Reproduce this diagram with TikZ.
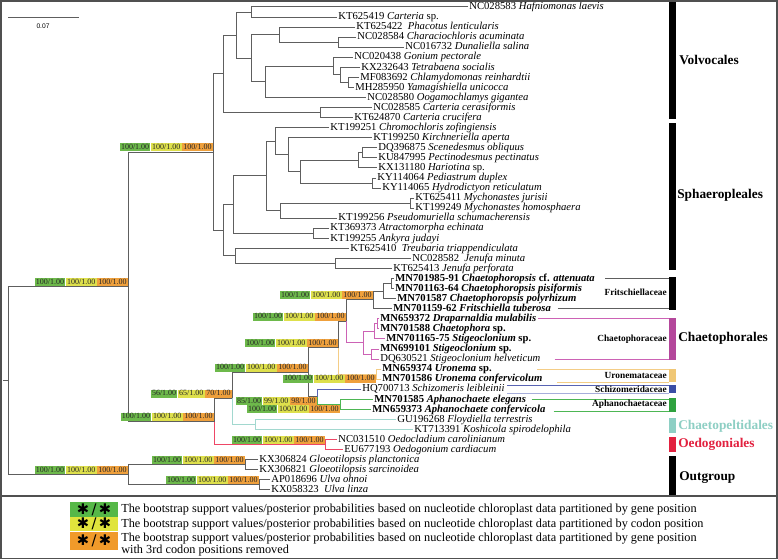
\documentclass[tikz,border=0pt]{standalone}
\usepackage{fontspec}
\setmainfont{Liberation Serif}
\setsansfont{Liberation Sans}
\newfontfamily\symfont{DejaVu Sans}
\usetikzlibrary{calc}
\definecolor{ln}{HTML}{5E5E5E}
\definecolor{sg}{HTML}{6DB94B}
\definecolor{sy}{HTML}{DEE04C}
\definecolor{so}{HTML}{EFA03C}
\definecolor{lg}{HTML}{56B848}
\definecolor{ly}{HTML}{E0E43C}
\definecolor{lo}{HTML}{F09A2A}
\definecolor{pk}{HTML}{CC62B5}
\definecolor{pkb}{HTML}{B4479B}
\definecolor{orl}{HTML}{F4CD86}
\definecolor{orb}{HTML}{F0C775}
\definecolor{bl}{HTML}{5863B3}
\definecolor{blb}{HTML}{3A4DA5}
\definecolor{bll}{HTML}{A7AEDB}
\definecolor{gr}{HTML}{4DB653}
\definecolor{grb}{HTML}{2FA23F}
\definecolor{tl}{HTML}{A2D8CF}
\definecolor{tlb}{HTML}{8ECFC4}
\definecolor{rd}{HTML}{EE4666}
\definecolor{rdb}{HTML}{E2213F}
\definecolor{frm}{HTML}{505050}
\tikzset{
  br/.style={draw=ln,line width=0.75pt},
  fln/.style={draw=ln,line width=0.9pt},
  tiplab/.style={anchor=west,inner sep=0pt,xshift=0.8pt,font=\fontsize{8}{9}\selectfont,text height=5.7pt,text depth=1.7pt},
  sb/.style={inner xsep=0.9pt,inner ysep=0pt,text height=4.6pt,text depth=1.4pt,font=\fontsize{6}{6}\selectfont,text=black!85},
  grp/.style={anchor=west,inner sep=0pt,font=\fontsize{10}{12}\selectfont\bfseries},
  fam/.style={anchor=east,inner sep=0pt,font=\fontsize{7}{8}\selectfont\bfseries},
  lbox/.style={minimum width=36pt,minimum height=11pt,inner sep=0pt,font=\symfont\fontsize{11}{11}\selectfont},
  ltext/.style={anchor=west,inner sep=0pt,font=\fontsize{9.2}{11}\selectfont},
  frame/.style={draw=frm,line width=1.1pt}
}
\newcommand\tp[4]{\coordinate (#1) at (#3,{7+10.06*(#2-1)});
  \node[tiplab] (L#1) at (#1) {#4};}
\newcommand\cl[6]{%
  \coordinate (#1m) at ($(#3)!0.5!(#4)$);
  \coordinate (#1) at (#2,0 |- #1m);
  \draw[br,#5] (#3) -- (#3 -| #1) -- (#1);
  \draw[br,#6] (#1) -- (#4 -| #1) -- (#4);}
\newcommand\supA[5]{%
  \node[sb,fill=so,anchor=south east,yshift=0.3pt] (#1o) at (#2) {#5};
  \node[sb,fill=sy,anchor=east] (#1y) at (#1o.west) {#4};
  \node[sb,fill=sg,anchor=east] (#1g) at (#1y.west) {#3};}
\newcommand\supB[5]{%
  \node[sb,fill=so,anchor=north east,yshift=-0.3pt] (#1o) at (#2) {#5};
  \node[sb,fill=sy,anchor=east] (#1y) at (#1o.west) {#4};
  \node[sb,fill=sg,anchor=east] (#1g) at (#1y.west) {#3};}
\begin{document}
\begin{tikzpicture}[x=0.75pt,y=-0.75pt]
\useasboundingbox (0,0) rectangle (778,560);
\fill[white] (0,0) rectangle (778,560);
% tips
\tp{t1}{1}{468}{NC028583 \textit{Hafniomonas laevis}}
\tp{t2}{2}{337}{KT625419 \textit{Carteria} sp.}
\tp{t3}{3}{355}{KT625422 \ \textit{Phacotus lenticularis}}
\tp{t4}{4}{356}{NC028584 \textit{Characiochloris acuminata}}
\tp{t5}{5}{404}{NC016732 \textit{Dunaliella salina}}
\tp{t6}{6}{353}{NC020438 \textit{Gonium pectorale}}
\tp{t7}{7}{360}{KX232643 \textit{Tetrabaena socialis}}
\tp{t8}{8}{359}{MF083692 \textit{Chlamydomonas reinhardtii}}
\tp{t9}{9}{354}{MH285950 \textit{Yamagishiella unicocca}}
\tp{t10}{10}{366}{NC028580 \textit{Oogamochlamys gigantea}}
\tp{t11}{11}{372}{NC028585 \textit{Carteria cerasiformis}}
\tp{t12}{12}{353}{KT624870 \textit{Carteria crucifera}}
\tp{t13}{13}{329}{KT199251 \textit{Chromochloris zofingiensis}}
\tp{t14}{14}{372}{KT199250 \textit{Kirchneriella aperta}}
\tp{t15}{15}{377}{DQ396875 \textit{Scenedesmus obliquus}}
\tp{t16}{16}{377}{KU847995 \textit{Pectinodesmus pectinatus}}
\tp{t17}{17}{377}{KX131180 \textit{Hariotina} sp.}
\tp{t18}{18}{376}{KY114064 \textit{Pediastrum duplex}}
\tp{t19}{19}{381}{KY114065 \textit{Hydrodictyon reticulatum}}
\tp{t20}{20}{414}{KT625411 \textit{Mychonastes jurisii}}
\tp{t21}{21}{414}{KT199249 \textit{Mychonastes homosphaera}}
\tp{t22}{22}{337}{KT199256 \textit{Pseudomuriella schumacherensis}}
\tp{t23}{23}{329}{KT369373 \textit{Atractomorpha echinata}}
\tp{t24}{24}{329}{KT199255 \textit{Ankyra judayi}}
\tp{t25}{25}{349}{KT625410 \ \textit{Treubaria triappendiculata}}
\tp{t26}{26}{411}{NC028582 \ \textit{Jenufa minuta}}
\tp{t27}{27}{392}{KT625413 \textit{Jenufa perforata}}
\tp{t28}{28}{394}{\textbf{MN701985-91 \textit{Chaetophoropsis} cf. \textit{attenuata}}}
\tp{t29}{29}{394}{\textbf{MN701163-64 \textit{Chaetophoropsis pisiformis}}}
\tp{t30}{30}{396}{\textbf{MN701587 \textit{Chaetophoropsis polyrhizum}}}
\tp{t31}{31}{392}{\textbf{MN701159-62 \textit{Fritschiella tuberosa}}}
\tp{t32}{32}{379}{\textbf{MN659372 \textit{Draparnaldia mulabilis}}}
\tp{t33}{33}{379}{\textbf{MN701588 \textit{Chaetophora} sp.}}
\tp{t34}{34}{385}{\textbf{MN701165-75 \textit{Stigeoclonium} sp.}}
\tp{t35}{35}{379}{\textbf{MN699101 \textit{Stigeoclonium} sp.}}
\tp{t36}{36}{379}{DQ630521 \textit{Stigeoclonium helveticum}}
\tp{t37}{37}{381}{\textbf{MN659374 \textit{Uronema} sp.}}
\tp{t38}{38}{381}{\textbf{MN701586 \textit{Uronema confervicolum}}}
\tp{t39}{39}{361}{HQ700713 \textit{Schizomeris leibleinii}}
\tp{t40}{40}{373}{\textbf{MN701585 \textit{Aphanochaete elegans}}}
\tp{t41}{41}{371}{\textbf{MN659373 \textit{Aphanochaete confervicola}}}
\tp{t42}{42}{396}{GU196268 \textit{Floydiella terrestris}}
\tp{t43}{43}{413}{KT713391 \textit{Koshicola spirodelophila}}
\tp{t44}{44}{337}{NC031510 \textit{Oedocladium carolinianum}}
\tp{t45}{45}{343}{EU677193 \textit{Oedogonium cardiacum}}
\tp{t46}{46}{258}{KX306824 \textit{Gloeotilopsis planctonica}}
\tp{t47}{47}{258}{KX306821 \textit{Gloeotilopsis sarcinoidea}}
\tp{t48}{48}{270}{AP018696 \textit{Ulva ohnoi}}
\tp{t49}{49}{270}{KX058323 \ \textit{Ulva linza}}
% Volvocales
\cl{V1}{251}{t1}{t2}{}{}
\cl{Vchar}{338}{t4}{t5}{}{}
\cl{Vphac}{279}{t3}{Vchar}{}{}
\cl{Nchl}{348}{t8}{t9}{}{}
\cl{Ntet}{340}{t7}{Nchl}{}{}
\cl{Ngon}{333}{t6}{Ntet}{}{}
\cl{Vg}{265}{Ngon}{t10}{}{}
\cl{V3}{251}{Vphac}{Vg}{}{}
\cl{Vtop}{236}{V1}{V3}{}{}
\cl{Vcart}{320}{t11}{t12}{}{}
\cl{Volv}{223}{Vtop}{Vcart}{}{}
% Sphaeropleales
\cl{Nsp}{362}{t15}{t16}{}{}
\cl{Nsh}{358}{Nsp}{t17}{}{}
\cl{Nph}{372}{t18}{t19}{}{}
\cl{Nsc}{300}{Nsh}{Nph}{}{}
\cl{Nk}{288}{t14}{Nsc}{}{}
\cl{Cc}{275}{t13}{Nk}{}{}
\cl{Nmy}{410}{t20}{t21}{}{}
\cl{Nmp}{280}{Nmy}{t22}{}{}
\cl{S1a}{266}{Cc}{Nmp}{}{}
\cl{Naa}{313}{t23}{t24}{}{}
\cl{S1}{233}{S1a}{Naa}{}{}
\cl{Nj}{335}{t26}{t27}{}{}
\cl{S2}{235}{t25}{Nj}{}{}
\cl{Sph}{223}{S1}{S2}{}{}
\cl{VS}{213}{Volv}{Sph}{}{}
% Chaetophorales etc.
\cl{Ncpa}{391}{t28}{t29}{}{}
\cl{Nchp}{383}{Ncpa}{t30}{}{}
\cl{Nfr}{373}{Nchp}{t31}{}{}
\cl{Ndc}{377}{t32}{t33}{draw=pk}{draw=pk}
\cl{Ndcs}{374}{Ndc}{t34}{draw=pk}{draw=pk}
\cl{Nms}{371}{t35}{t36}{draw=pk}{draw=pk}
\cl{Nchae}{363}{Ndcs}{Nms}{draw=pk}{draw=pk}
\cl{Nfc}{346}{Nfr}{Nchae}{}{draw=pk}
\cl{Nuro}{376}{t37}{t38}{draw=orl}{draw=orl}
\cl{Nfcu}{338}{Nfc}{Nuro}{}{draw=orl}
\cl{Naph}{340}{t40}{t41}{draw=gr}{draw=gr}
\cl{Nsa}{317}{t39}{Naph}{draw=bl}{draw=gr}
\cl{Nch1}{308}{Nfcu}{Nsa}{}{}
\cl{Ncp}{255}{t42}{t43}{draw=tl}{draw=tl}
\cl{Ncc}{232}{Nch1}{Ncp}{}{draw=tl}
\cl{Noed}{325}{t44}{t45}{draw=rd}{draw=rd}
\cl{Nco}{214}{Ncc}{Noed}{}{draw=rd}
\cl{NA}{128}{VS}{Nco}{}{}
\cl{Nglo}{245}{t46}{t47}{}{}
\cl{Nulva}{259}{t48}{t49}{}{}
\cl{Nog}{128}{Nglo}{Nulva}{}{}
\cl{Root}{8}{NA}{Nog}{}{}
\coordinate (rs) at (3,0 |- Root);
\draw[br] (rs) -- (Root);
% support values
\supA{sVS}{VS}{100/1.00}{100/1.00}{100/1.00}
\supA{sNA}{NA}{100/1.00}{100/1.00}{100/1.00}
\supA{sFr}{Nfr}{100/1.00}{100/1.00}{100/1.00}
\supA{sFc}{Nfc}{100/1.00}{100/1.00}{100/1.00}
\supA{sFu}{Nfcu}{100/1.00}{100/1.00}{100/1.00}
\supA{sC1}{Nch1}{100/1.00}{100/1.00}{100/1.00}
\supB{sUr}{Nuro}{100/1.00}{100/1.00}{100/1.00}
\supB{sSa}{Nsa}{85/1.00}{99/1.00}{98/1.00}
\supB{sAp}{Naph}{100/1.00}{100/1.00}{100/1.00}
\supA{sCc}{Ncc}{56/1.00}{65/1.00}{70/1.00}
\supA{sCo}{Nco}{100/1.00}{100/1.00}{100/1.00}
\supA{sOe}{Noed}{100/1.00}{100/1.00}{100/1.00}
\supA{sOg}{Nog}{100/1.00}{100/1.00}{100/1.00}
\supA{sGl}{Nglo}{100/1.00}{100/1.00}{100/1.00}
\supA{sUl}{Nulva}{100/1.00}{100/1.00}{100/1.00}
% scale bar
\coordinate (sc1) at (8,18);
\coordinate (sc2) at (79,18);
\draw[br] (sc1) -- (sc2);
\node[inner sep=0pt,font=\sffamily\fontsize{5}{6}\selectfont] (scl) at (43,26) {0.07};
% family brackets
\coordinate (bx) at (669,0);
\coordinate (sz1) at ($(t39)+(0,-4)$);
\coordinate (sz2) at ($(t39)+(0,4)$);
\coordinate (ur2) at ($(t38)+(0,3)$);
\coordinate (ap2) at ($(t41)+(0,2)$);
\coordinate (u2s) at ([xshift=11pt]Lt38.east);
\coordinate (a2s) at ([xshift=6pt]Lt41.east);
\coordinate (z1s) at ([xshift=2pt]Lt39.east);
\draw[fln] ([xshift=7.5pt]Lt28.east) -- (Lt28.east -| bx);
\draw[fln] ([xshift=5pt]Lt31.east) -- (Lt31.east -| bx);
\draw[fln,draw=pk] ([xshift=1pt]Lt32.east) -- (Lt32.east -| bx);
\draw[fln,draw=pk] ([xshift=10.5pt]Lt36.east) -- (Lt36.east -| bx);
\draw[fln,draw=orl] ([xshift=34pt]Lt37.east) -- (Lt37.east -| bx);
\draw[fln,draw=orl] (u2s |- ur2) -- (ur2 -| bx);
\draw[fln,draw=bl] (z1s |- sz1) -- (sz1 -| bx);
\draw[fln,draw=bll] (z1s |- sz2) -- (sz2 -| bx);
\draw[fln,draw=gr] ([xshift=4pt]Lt40.east) -- (Lt40.east -| bx);
\draw[fln,draw=gr] (a2s |- ap2) -- (ap2 -| bx);
% bars
\fill[black] (669,2) rectangle (676,119);
\fill[black] (669,123) rectangle (676,270);
\fill[black] (669,277) rectangle (676,309.5);
\fill[pkb] (669,318) rectangle (676,359.5);
\fill[orb] (669,369) rectangle (676,382);
\fill[blb] (669,385) rectangle (676,393);
\fill[grb] (669,398) rectangle (676,412);
\fill[tlb] (669,418) rectangle (676,433);
\fill[rdb] (669,437) rectangle (676,452);
\fill[black] (669,456) rectangle (676,495);
% group labels
\node[grp] (gVo) at (679,60) {Volvocales};
\node[grp] (gSp) at (677,195) {Sphaeropleales};
\node[grp] (gCh) at (678,338) {Chaetophorales};
\node[grp,text=tlb] (gCp) at (678,426) {Chaetopeltidales};
\node[grp,text=rdb] (gOe) at (678,444) {Oedogoniales};
\node[grp] (gOu) at (679,478) {Outgroup};
\node[fam] (fFr) at (667,292) {Fritschiellaceae};
\node[fam] (fCh) at (667,339) {Chaetophoraceae};
\node[fam] (fUr) at (667,375) {Uronemataceae};
\node[fam] (fSc) at (667,389) {Schizomeridaceae};
\node[fam] (fAp) at (667,404) {Aphanochaetaceae};
% frame
\draw[frame] (1,1) rectangle (777,558.5);
\draw[frame] (1,496) -- (777,496);
% legend
\node[lbox,fill=lg] (k1) at (94,509.5) {✱\,/\,✱};
\node[lbox,fill=ly] (k2) at (94,524) {✱\,/\,✱};
\node[lbox,fill=lo,minimum height=13pt] (k3) at (94,541) {✱\,/\,✱};
\node[ltext] (x1) at (121,510) {The bootstrap support values/posterior probabilities based on nucleotide chloroplast data partitioned by gene position};
\node[ltext] (x2) at (121,524.5) {The bootstrap support values/posterior probabilities based on nucleotide chloroplast data partitioned by codon position};
\node[ltext] (x3) at (121,539) {The bootstrap support values/posterior probabilities based on nucleotide chloroplast data partitioned by gene position};
\node[ltext] (x4) at (121,551) {with 3rd codon positions removed};
\end{tikzpicture}
\end{document}
